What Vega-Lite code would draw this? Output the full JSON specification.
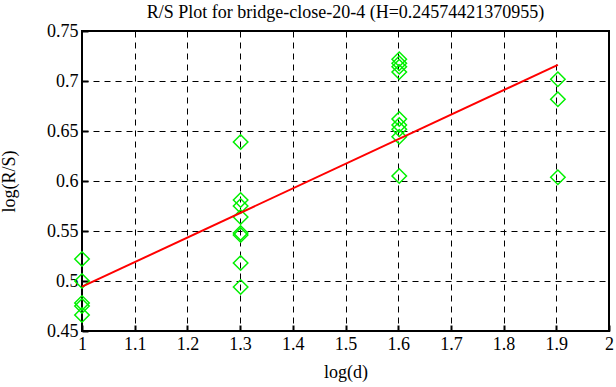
{
  "$schema": "https://vega.github.io/schema/vega-lite/v6.json",
  "width": 527,
  "height": 300,
  "autosize": {"type": "none"},
  "padding": {"left": 82, "top": 31, "right": 7, "bottom": 56},
  "background": "white",
  "config": {
    "view": {"stroke": "black", "strokeWidth": 2},
    "font": "Liberation Serif",
    "axis": {
      "domain": false,
      "grid": true,
      "gridColor": "black",
      "gridDash": [6, 5],
      "gridOpacity": 1,
      "gridWidth": 1,
      "tickColor": "black",
      "tickSize": -6,
      "tickWidth": 2,
      "labelFlush": false,
      "labelOverlap": false,
      "labelFont": "Liberation Serif",
      "labelFontSize": 18,
      "labelColor": "black",
      "titleFont": "Liberation Serif",
      "titleFontSize": 18,
      "titleFontWeight": "normal",
      "titleColor": "black"
    }
  },
  "title": {
    "text": "R/S Plot for bridge-close-20-4 (H=0.24574421370955)",
    "font": "Liberation Serif",
    "fontSize": 18,
    "fontWeight": "normal",
    "color": "black",
    "offset": 0
  },
  "data": {
    "values": [
      {"d": 1.0, "rs": 0.522, "kind": "pt"},
      {"d": 1.0, "rs": 0.500, "kind": "pt"},
      {"d": 1.0, "rs": 0.478, "kind": "pt"},
      {"d": 1.0, "rs": 0.475, "kind": "pt"},
      {"d": 1.0, "rs": 0.466, "kind": "pt"},
      {"d": 1.301, "rs": 0.639, "kind": "pt"},
      {"d": 1.301, "rs": 0.581, "kind": "pt"},
      {"d": 1.301, "rs": 0.575, "kind": "pt"},
      {"d": 1.301, "rs": 0.564, "kind": "pt"},
      {"d": 1.301, "rs": 0.548, "kind": "pt"},
      {"d": 1.301, "rs": 0.546, "kind": "pt"},
      {"d": 1.301, "rs": 0.518, "kind": "pt"},
      {"d": 1.301, "rs": 0.494, "kind": "pt"},
      {"d": 1.602, "rs": 0.7217, "kind": "pt"},
      {"d": 1.602, "rs": 0.7177, "kind": "pt"},
      {"d": 1.602, "rs": 0.7143, "kind": "pt"},
      {"d": 1.602, "rs": 0.709, "kind": "pt"},
      {"d": 1.602, "rs": 0.662, "kind": "pt"},
      {"d": 1.602, "rs": 0.656, "kind": "pt"},
      {"d": 1.602, "rs": 0.6517, "kind": "pt"},
      {"d": 1.602, "rs": 0.6443, "kind": "pt"},
      {"d": 1.602, "rs": 0.605, "kind": "pt"},
      {"d": 1.903, "rs": 0.7017, "kind": "pt"},
      {"d": 1.903, "rs": 0.6817, "kind": "pt"},
      {"d": 1.903, "rs": 0.6037, "kind": "pt"},
      {"d": 1.0, "rs": 0.4943, "kind": "fit"},
      {"d": 1.903, "rs": 0.7162, "kind": "fit"}
    ]
  },
  "encoding": {
    "x": {
      "field": "d", "type": "quantitative",
      "scale": {"domain": [1, 2], "nice": false, "zero": false},
      "axis": {"values": [1, 1.1, 1.2, 1.3, 1.4, 1.5, 1.6, 1.7, 1.8, 1.9, 2], "format": "~g", "title": "log(d)", "labelPadding": 10, "titleY": 32, "titleBaseline": "top"}
    },
    "y": {
      "field": "rs", "type": "quantitative",
      "scale": {"domain": [0.45, 0.75], "nice": false, "zero": false},
      "axis": {"values": [0.45, 0.5, 0.55, 0.6, 0.65, 0.7, 0.75], "format": "~g", "title": "log(R/S)", "labelPadding": 10, "titleX": -64}
    }
  },
  "layer": [
    {
      "transform": [{"filter": "datum.kind === 'pt'"}],
      "mark": {"type": "point", "shape": "diamond", "size": 210, "filled": false, "stroke": "#00f000", "strokeWidth": 1.5, "opacity": 1}
    },
    {
      "transform": [{"filter": "datum.kind === 'fit'"}],
      "mark": {"type": "line", "color": "#ff0000", "strokeWidth": 2}
    }
  ]
}
